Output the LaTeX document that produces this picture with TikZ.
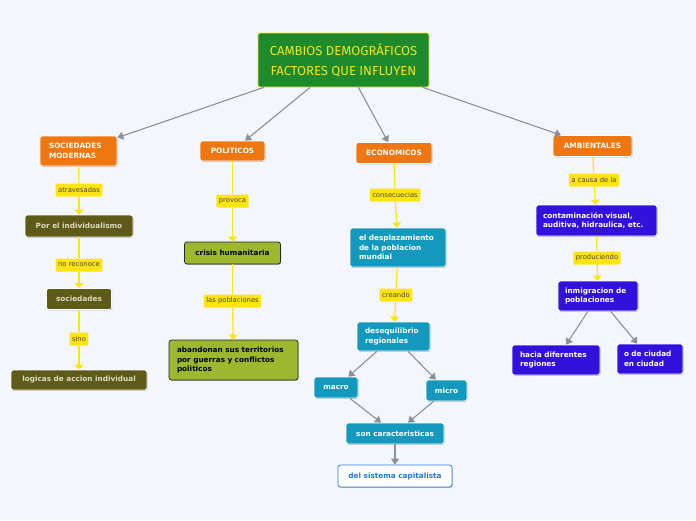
\documentclass[tikz,border=0pt]{standalone}
\usepackage{fontspec}
\setmainfont{DejaVu Sans}
\newfontfamily\titlefont{Fira Sans}
\usetikzlibrary{arrows.meta,shadows}
\definecolor{fondo}{HTML}{F3F6FD}
\definecolor{verdetit}{HTML}{1E8A2C}
\definecolor{amartit}{HTML}{F2E61E}
\definecolor{naranja}{HTML}{EE7711}
\definecolor{oliva}{HTML}{5E5A17}
\definecolor{olivatxt}{HTML}{DEDCC4}
\definecolor{lima}{HTML}{9DB72E}
\definecolor{turquesa}{HTML}{1399BE}
\definecolor{violeta}{HTML}{3311DD}
\definecolor{azul}{HTML}{2277DD}
\definecolor{amarillo}{HTML}{FFE414}
\definecolor{txtetiq}{HTML}{4A4A30}
\definecolor{flecha}{HTML}{8A8F99}

\begin{document}
\begin{tikzpicture}[x=1pt,y=-1pt,
    caja/.style={rounded corners=2.5pt, draw=white, line width=0.7pt,
      font=\bfseries\fontsize{7.3}{9.6}\selectfont, inner ysep=0pt,
      drop shadow={shadow xshift=0.6pt,shadow yshift=-0.8pt,opacity=0.25,fill=black}},
    naranja/.style={caja, fill=naranja, text=white},
    oliva/.style={caja, fill=oliva, text=olivatxt},
    lima/.style={caja, fill=lima, draw=black!85, text=black},
    turquesa/.style={caja, fill=turquesa, text=white},
    violeta/.style={caja, fill=violeta, text=white},
    blanca/.style={caja, fill=white, draw=azul, text=azul},
    etiqueta/.style={fill=amarillo, text=txtetiq, font=\fontsize{6.8}{8}\selectfont,
      inner xsep=2.5pt, inner ysep=0pt, minimum height=13pt, rounded corners=1pt},
    gris/.style={draw=flecha, line width=1.1pt, -{Triangle[width=8pt,length=6pt]}},
    linea/.style={draw=amarillo, line width=1.2pt},
    flechaA/.style={linea, -{Triangle[width=9pt,length=5pt]}}
  ]
  % fondo
  \fill[fondo] (0,0) rectangle (696,520);

  % titulo
  \node[fill=verdetit, draw=amartit, line width=0.8pt, rounded corners=2pt,
    minimum width=171pt, minimum height=54pt, text=amartit, align=center,
    font=\titlefont\fontsize{13}{20}\selectfont] (titulo) at (343.5,60)
    {CAMBIOS DEMOGRÁFICOS\\FACTORES QUE INFLUYEN};

  % factores
  \node[naranja, text width=59pt, inner xsep=9pt, minimum height=30pt, align=left]
    (sociales) at (78.5,151) {SOCIEDADES\\MODERNAS};
  \node[naranja, minimum width=65pt, minimum height=20pt] (politicos) at (232.5,151) {POLITICOS};
  \node[naranja, minimum width=76pt, minimum height=21pt] (economicos) at (394,153) {ECONOMICOS};
  \node[naranja, minimum width=79pt, minimum height=21pt] (ambientales) at (592.5,146) {AMBIENTALES};

  \draw[gris] (titulo) -- (sociales);
  \draw[gris] (titulo) -- (politicos);
  \draw[gris] (titulo) -- (economicos);
  \draw[gris] (titulo) -- (ambientales);

  % sociedades modernas
  \node[etiqueta] (atrav) at (79,190) {atravesadas};
  \node[oliva, minimum width=108pt, minimum height=22pt] (individualismo) at (79,226) {Por el individualismo};
  \node[etiqueta] (noreconoce) at (79,265) {no reconoce};
  \node[oliva, minimum width=65pt, minimum height=21pt] (sociedades) at (79,299) {sociedades};
  \node[etiqueta] (sino) at (79,339) {sino};
  \node[oliva, minimum width=136pt, minimum height=20pt] (logicas) at (79,380) {logicas de accion individual};

  \draw[linea] (sociales) -- (atrav);
  \draw[flechaA] (atrav) -- (individualismo);
  \draw[linea] (individualismo) -- (noreconoce);
  \draw[flechaA] (noreconoce) -- (sociedades);
  \draw[linea] (sociedades) -- (sino);
  \draw[flechaA] (sino) -- (logicas);

  % politicos
  \node[etiqueta] (provoca) at (232.5,201) {provoca};
  \node[lima, minimum width=96pt, minimum height=22pt] (crisis) at (232.5,253) {crisis humanitaria};
  \node[etiqueta] (poblaciones) at (232.5,301) {las poblaciones};
  \node[lima, text width=113pt, inner xsep=8pt, minimum height=40pt, align=left]
    (abandonan) at (233.5,360) {abandonan sus territorios\\por guerras y conflictos\\politicos};

  \draw[linea] (politicos) -- (provoca);
  \draw[flechaA] (provoca) -- (crisis);
  \draw[linea] (crisis) -- (poblaciones);
  \draw[flechaA] (poblaciones) -- (abandonan);

  % economicos
  \node[etiqueta] (consec) at (395,195) {consecuecias};
  \node[turquesa, text width=78pt, inner xsep=9pt, minimum height=39pt, align=left]
    (desplaz) at (398,247.5) {el desplazamiento\\de la poblacion\\mundial};
  \node[etiqueta] (creando) at (396,295) {creando};
  \node[turquesa, text width=57pt, inner xsep=8pt, minimum height=29pt, align=left]
    (desequilibrio) at (393.5,336.5) {desequilibrio\\regionales};
  \node[turquesa, minimum width=44pt, minimum height=21pt] (macro) at (336,387.5) {macro};
  \node[turquesa, minimum width=41pt, minimum height=21pt] (micro) at (446.5,390.5) {micro};
  \node[turquesa, minimum width=98pt, minimum height=21pt] (caracter) at (395,433.5) {son caracteristicas};
  \node[blanca, minimum width=114pt, minimum height=22pt] (capitalista) at (395,476) {del sistema capitalista};

  \draw[linea] (economicos) -- (consec);
  \draw[flechaA] (consec) -- (desplaz);
  \draw[linea] (desplaz) -- (creando);
  \draw[flechaA] (creando) -- (desequilibrio);
  \draw[gris] (desequilibrio) -- (macro);
  \draw[gris] (desequilibrio) -- (micro);
  \draw[gris] (macro) -- (caracter);
  \draw[gris] (micro) -- (caracter);
  \draw[gris] (caracter) -- (capitalista);

  % ambientales
  \node[etiqueta] (causa) at (594,180) {a causa de la};
  \node[violeta, text width=107pt, inner xsep=7pt, minimum height=31pt, align=left]
    (contaminacion) at (596.5,220.5) {contaminación visual,\\auditiva, hidraulica, etc.};
  \node[etiqueta] (produciendo) at (597,258) {produciendo};
  \node[violeta, text width=66pt, inner xsep=7pt, minimum height=30pt, align=left]
    (inmigracion) at (598,296) {inmigracion de\\poblaciones};
  \node[violeta, text width=72pt, inner xsep=8pt, minimum height=30pt, align=left]
    (regiones) at (556,360) {hacia diferentes\\regiones};
  \node[violeta, text width=52pt, inner xsep=7pt, minimum height=30pt, align=left]
    (ciudad) at (650,359) {o de ciudad\\en ciudad};

  \draw[linea] (ambientales) -- (causa);
  \draw[flechaA] (causa) -- (contaminacion);
  \draw[linea] (contaminacion) -- (produciendo);
  \draw[flechaA] (produciendo) -- (inmigracion);
  \draw[gris] (inmigracion) -- (regiones);
  \draw[gris] (inmigracion) -- (ciudad);
\end{tikzpicture}
\end{document}
